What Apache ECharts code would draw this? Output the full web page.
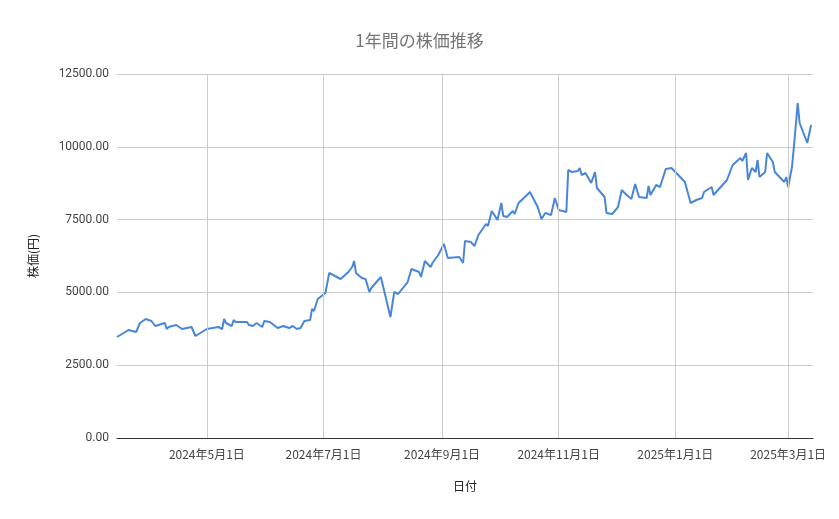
<!DOCTYPE html>
<html>
<head>
<meta charset="utf-8">
<script src="https://cdn.jsdelivr.net/npm/echarts@6/dist/echarts.min.js"></script>
<style>html,body{margin:0;padding:0;background:#fff;}#chart{width:839px;height:519px;}</style>
</head>
<body>
<div id="chart"></div>
<script>
var dates = ['2024-03-15','2024-03-21','2024-03-25','2024-03-27','2024-03-30','2024-04-02','2024-04-04','2024-04-09','2024-04-10','2024-04-11',
  '2024-04-15','2024-04-18','2024-04-23','2024-04-25','2024-05-01','2024-05-07','2024-05-09','2024-05-10','2024-05-11','2024-05-14',
  '2024-05-15','2024-05-16','2024-05-22','2024-05-23','2024-05-25','2024-05-27','2024-05-30','2024-05-31','2024-06-03','2024-06-07',
  '2024-06-10','2024-06-13','2024-06-15','2024-06-17','2024-06-19','2024-06-20','2024-06-21','2024-06-24','2024-06-25','2024-06-26',
  '2024-06-28','2024-07-02','2024-07-04','2024-07-07','2024-07-10','2024-07-14','2024-07-16','2024-07-17','2024-07-18','2024-07-21',
  '2024-07-23','2024-07-25','2024-07-26','2024-07-31','2024-08-05','2024-08-07','2024-08-09','2024-08-14','2024-08-16','2024-08-20',
  '2024-08-21','2024-08-23','2024-08-26','2024-08-27','2024-08-28','2024-08-30','2024-09-02','2024-09-04','2024-09-10','2024-09-12',
  '2024-09-13','2024-09-16','2024-09-18','2024-09-20','2024-09-24','2024-09-25','2024-09-27','2024-09-30','2024-10-02','2024-10-03',
  '2024-10-05','2024-10-08','2024-10-09','2024-10-11','2024-10-17','2024-10-21','2024-10-23','2024-10-25','2024-10-28','2024-10-30',
  '2024-11-01','2024-11-05','2024-11-06','2024-11-08','2024-11-11','2024-11-12','2024-11-13','2024-11-15','2024-11-18','2024-11-20',
  '2024-11-21','2024-11-25','2024-11-26','2024-11-29','2024-12-02','2024-12-04','2024-12-06','2024-12-09','2024-12-11','2024-12-12',
  '2024-12-13','2024-12-17','2024-12-18','2024-12-19','2024-12-22','2024-12-24','2024-12-27','2024-12-30','2025-01-06','2025-01-09',
  '2025-01-12','2025-01-15','2025-01-16','2025-01-20','2025-01-21','2025-01-28','2025-01-29','2025-01-31','2025-02-04','2025-02-05',
  '2025-02-07','2025-02-08','2025-02-10','2025-02-12','2025-02-13','2025-02-14','2025-02-17','2025-02-18','2025-02-21','2025-02-22',
  '2025-02-27','2025-02-28','2025-03-01','2025-03-03','2025-03-04','2025-03-06','2025-03-07','2025-03-11','2025-03-13'];
var prices = [3468,3709,3640,3949,4086,4018,3846,3949,3743,3812,
  3880,3743,3812,3503,3743,3812,3743,4086,3949,3846,
  4052,3983,3983,3880,3846,3949,3812,4018,3983,3777,
  3846,3777,3846,3743,3777,3709,4018,4052,4430,4361,
  4773,4979,5666,5563,5460,5700,5872,6078,5666,5494,
  5460,5014,5151,5529,4155,5014,4945,5357,5803,5700,
  5529,6078,5872,6010,5975,6284,6662,6181,6216,6010,
  6765,6731,6593,6971,7349,7280,7795,7486,8070,7623,
  7589,7795,7692,8070,8448,7932,7520,7726,7658,8242,
  7830,7761,9203,9134,9169,9272,9031,9100,8757,9134,
  8585,8276,7727,7692,7932,8516,8379,8207,8722,8722,
  8276,8242,8654,8345,8688,8619,9237,9272,8791,8070,
  8173,8242,8448,8619,8345,8860,8825,9375,9615,9512,
  9787,8860,9272,9134,9546,8963,9134,9787,9478,9134,
  8791,8963,8619,9306,9993,11504,10817,10130,10748];
var tickDates = ['2024-05-01','2024-07-01','2024-09-01','2024-11-01','2025-01-01','2025-03-01'];
var axisStart = '2024-03-15';
var axisEnd = '2025-03-14';

function ts(s) { var p = s.split('-'); return Date.UTC(+p[0], +p[1] - 1, +p[2]); }
var tickTs = tickDates.map(ts);
var points = dates.map(function (d, i) { return [ts(d), prices[i]]; });

var chart = echarts.init(document.getElementById('chart'));
chart.setOption({
  animation: false,
  textStyle: { fontFamily: 'Roboto, "Noto Sans CJK JP", sans-serif' },
  title: {
    text: '1年間の株価推移', left: 'center', top: 27,
    textStyle: { color: '#757575', fontSize: 17, fontWeight: 'normal', fontFamily: '"Noto Sans CJK JP", Roboto, sans-serif' }
  },
  grid: { left: 117, right: 26, top: 74, bottom: 81 },
  xAxis: {
    type: 'time', useUTC: true,
    min: ts(axisStart), max: ts(axisEnd),
    name: '日付', nameLocation: 'middle', nameGap: 42,
    nameTextStyle: { color: '#222', fontSize: 12, fontFamily: '"Noto Sans CJK JP", sans-serif' },
    axisLine: { lineStyle: { color: '#333' } },
    axisTick: { show: false },
    splitLine: { show: false },
    axisLabel: { show: false }
  },
  yAxis: {
    type: 'value', min: 0, max: 12500, interval: 2500,
    name: '株価(円)', nameLocation: 'middle', nameGap: 78, nameRotate: 90,
    nameTextStyle: { color: '#222', fontSize: 12, fontFamily: '"Noto Sans CJK JP", sans-serif' },
    axisLine: { show: false }, axisTick: { show: false },
    axisLabel: { color: '#444', fontSize: 12, margin: 8, formatter: function (v) { return v.toFixed(2); } },
    splitLine: { lineStyle: { color: '#cccccc' } }
  },
  series: [{
    type: 'line', data: points, showSymbol: false,
    lineStyle: { color: '#4a86d8', width: 2 },
    markLine: {
      silent: true, symbol: 'none',
      lineStyle: { color: '#cccccc', type: 'solid', width: 1 },
      label: {
        position: 'start', distance: 10, color: '#444', fontSize: 12,
        fontFamily: '"Noto Sans CJK JP", sans-serif',
        formatter: function (p) {
          var d = new Date(p.value);
          return d.getUTCFullYear() + '年' + (d.getUTCMonth() + 1) + '月' + d.getUTCDate() + '日';
        }
      },
      data: tickTs.map(function (t) { return { xAxis: t }; })
    },
    z: 3
  }]
});
</script>
</body>
</html>
